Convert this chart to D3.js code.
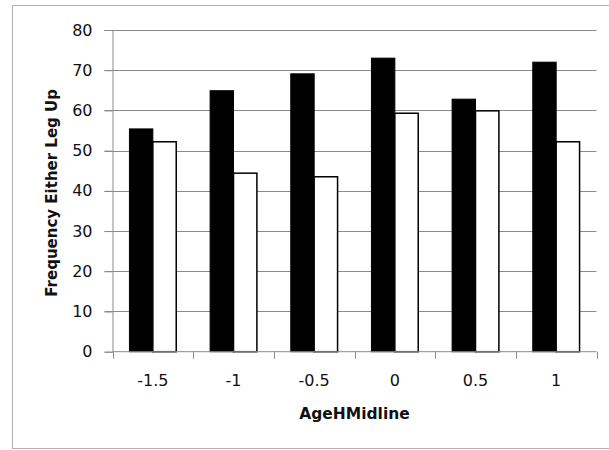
<!DOCTYPE html>
<html>
<head>
<meta charset="utf-8">
<script src="https://cdn.jsdelivr.net/npm/d3@7/dist/d3.min.js"></script>
<style>
html,body{margin:0;padding:0;background:#fff;}
svg{display:block;}
</style>
</head>
<body>
<svg id="chart" width="609" height="450"></svg>
<script>
const categories = ["-1.5", "-1", "-0.5", "0", "0.5", "1"];
const seriesBlack = [55.4, 64.9, 69.1, 73.0, 62.8, 72.0];
const seriesWhite = [52.2, 44.4, 43.5, 59.3, 59.9, 52.2];
const yTicks = [0, 10, 20, 30, 40, 50, 60, 70, 80];
const xTitle = "AgeHMidline";
const yTitle = "Frequency Either Leg Up";

(function () {
const svg = d3.select("#chart");
const pLeft = 112.5, pRight = 596.5, pTop = 30, pBottom = 351.7;
const font = "DejaVu Sans, sans-serif";

// outer frame
svg.append("rect").attr("x", 12.5).attr("y", 5.5).attr("width", 620).attr("height", 443)
  .attr("fill", "#fff").attr("stroke", "#b0b0b0").attr("stroke-width", 1);

const x0 = d3.scaleBand().domain(categories).range([pLeft, pRight]).paddingInner(0.42).paddingOuter(0.21);
const x1 = d3.scaleBand().domain(["black", "white"]).range([0, x0.bandwidth()]);
const y = d3.scaleLinear().domain([0, 80]).range([pBottom, pTop]);

// gridlines
svg.append("g").selectAll("line").data(yTicks.filter(d => d > 0)).join("line")
  .attr("x1", pLeft - 8).attr("x2", pRight)
  .attr("y1", d => Math.round(y(d)) + 0.5).attr("y2", d => Math.round(y(d)) + 0.5)
  .attr("stroke", "#8a8a8a").attr("stroke-width", 1);

// bars
const groups = svg.append("g").selectAll("g").data(categories).join("g")
  .attr("transform", d => `translate(${x0(d)},0)`);
groups.append("rect")
  .attr("x", x1("black")).attr("width", x1.bandwidth())
  .attr("y", (d, i) => y(seriesBlack[i])).attr("height", (d, i) => y(0) - y(seriesBlack[i]))
  .attr("fill", "#000").attr("stroke", "#000").attr("stroke-width", 1);
groups.append("rect")
  .attr("x", x1("white")).attr("width", x1.bandwidth())
  .attr("y", (d, i) => y(seriesWhite[i])).attr("height", (d, i) => y(0) - y(seriesWhite[i]))
  .attr("fill", "#fff").attr("stroke", "#000").attr("stroke-width", 1.5);

// y axis
const yAxis = d3.axisLeft(y).tickValues(yTicks).tickSize(8).tickPadding(12);
const gy = svg.append("g").attr("transform", `translate(${pLeft},0)`).call(yAxis);
gy.select(".domain").attr("stroke", "#8a8a8a");
gy.selectAll(".tick line").attr("stroke", "#8a8a8a");
gy.selectAll(".tick text").attr("font-family", font).attr("font-size", 16).attr("fill", "#111");

// x axis: domain line, boundary ticks, centered labels
const step = x0.step();
const pad = (step - x0.bandwidth()) / 2;
const bounds = categories.map(c => x0(c) - pad).concat([x0(categories[categories.length - 1]) + x0.bandwidth() + pad]);
const gx = svg.append("g");
gx.append("line").attr("x1", pLeft).attr("x2", pRight).attr("y1", pBottom).attr("y2", pBottom)
  .attr("stroke", "#8a8a8a").attr("stroke-width", 1);
gx.selectAll("line.tk").data(bounds).join("line").attr("class", "tk")
  .attr("x1", d => Math.round(d) + 0.5).attr("x2", d => Math.round(d) + 0.5)
  .attr("y1", pBottom).attr("y2", pBottom + 7).attr("stroke", "#8a8a8a");
gx.selectAll("text").data(categories).join("text")
  .attr("x", d => x0(d) + x0.bandwidth() / 2).attr("y", 386)
  .attr("text-anchor", "middle").attr("font-family", font).attr("font-size", 16).attr("fill", "#111")
  .text(d => d);

// axis titles
svg.append("text").attr("x", (pLeft + pRight) / 2).attr("y", 419)
  .attr("text-anchor", "middle").attr("font-family", font).attr("font-weight", "bold")
  .attr("font-size", 15.5).attr("fill", "#111").text(xTitle);
svg.append("text").attr("transform", `translate(57,${(pTop + pBottom) / 2 + 2}) rotate(-90)`)
  .attr("text-anchor", "middle").attr("font-family", font).attr("font-weight", "bold")
  .attr("font-size", 15).attr("fill", "#111").text(yTitle);
})();
</script>
</body>
</html>
